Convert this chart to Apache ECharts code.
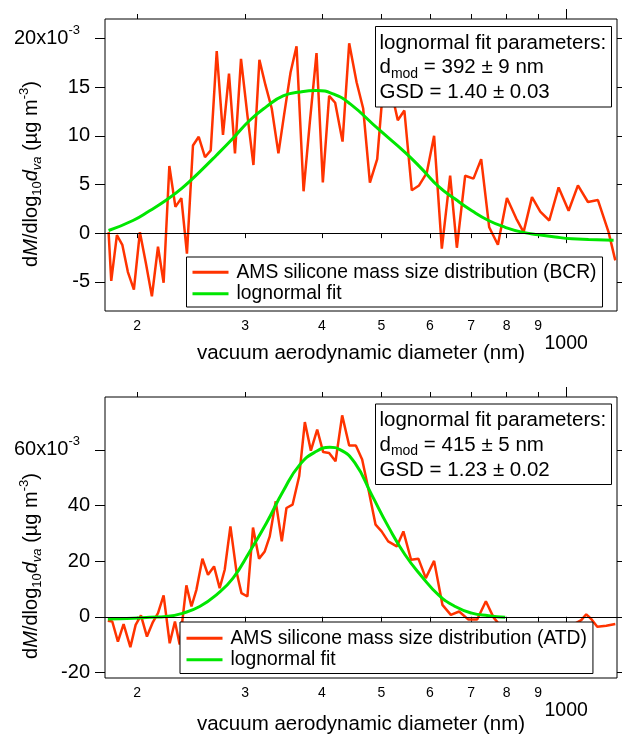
<!DOCTYPE html>
<html>
<head>
<meta charset="utf-8">
<script src="https://cdn.jsdelivr.net/npm/echarts@6/dist/echarts.min.js"></script>
<style>
  html, body { margin: 0; padding: 0; background: #fff; }
  #chart { width: 622px; height: 736px; }
</style>
</head>
<body>
<div id="chart"></div>
<script>
// Silicone mass size distributions (units of 1e-3 ug m^-3) vs vacuum aerodynamic diameter (nm)

// BCR sample: measured distribution
const bcrDiameter = [179.7, 181.5, 185.4, 189.2, 193.2, 197.6, 202.1, 206.7, 211.4, 216.3, 220.9, 225.7,
  230.9, 236.1, 241.1, 246.6, 252.0, 258.0, 263.6, 269.6, 276.0, 282.3, 288.7, 295.3, 302.5, 309.4,
  316.4, 323.7, 331.4, 339.8, 347.0, 355.6, 363.7, 373.4, 382.3, 392.0, 401.4, 411.0, 420.4, 432.2,
  443.1, 455.6, 467.0, 478.9, 492.2, 506.6, 519.0, 531.7, 545.0, 560.4, 575.9, 592.8, 609.3, 627.2,
  647.1, 663.6, 684.6, 706.3, 727.0, 749.2, 774.1, 800.7, 829.2, 852.3, 879.6, 907.4, 938.6, 972.0,
  1009.2, 1045.1, 1085.0, 1126.5, 1172.4, 1202.3];
const bcrMass = [0.1, -4.9, -0.2, -1.2, -4.0, -5.8, 0.1, -3.1, -6.5, -1.4, -5.1, 6.9,
  2.7, 3.6, -2.1, 9.0, 9.9, 7.8, 8.5, 18.7, 10.1, 16.4, 8.2, 17.9, 12.1, 7.0,
  17.8, 15.2, 12.8, 8.2, 12.1, 16.5, 19.2, 4.3, 11.4, 18.5, 5.2, 14.1, 13.4, 9.4,
  19.5, 15.5, 12.8, 5.2, 7.6, 17.2, 14.6, 11.6, 12.6, 4.4, 4.9, 6.2, 10.0, -1.6,
  5.9, -1.5, 5.9, 5.6, 7.6, 0.6, -1.2, 3.6, 1.5, 0.1, 3.7, 2.2, 1.3, 4.7,
  2.3, 4.9, 3.2, 3.4, 0.1, -2.8];

// BCR sample: lognormal fit curve
const bcrFitDiameter = [179.7, 196.9, 209.6, 223.2, 237.5, 252.9, 269.3, 286.6, 305.2, 324.9, 345.8,
  368.2, 392.0, 417.3, 444.3, 494.1, 546.4, 581.8, 619.3, 659.4, 702.1, 747.3, 795.6, 847.2, 901.6,
  960.0, 1022.2, 1087.5, 1194.6];
const bcrFit = [0.27, 1.3, 2.3, 3.4, 4.7, 6.3, 8.0, 9.75, 11.6, 13.0, 14.1,
  14.5, 14.65, 14.3, 13.3, 10.7, 8.3, 6.6, 4.8, 3.5, 2.3, 1.3, 0.6, 0.1, -0.17,
  -0.4, -0.58, -0.65, -0.72];

// ATD sample: measured distribution
const atdDiameter = [179.2, 182.2, 186.1, 190.1, 195.0, 198.9, 202.9, 207.5, 212.2, 216.3, 220.9, 226.0,
  230.5, 234.6, 240.6, 245.2, 249.8, 255.5, 260.9, 266.9, 272.6, 277.8, 283.8, 290.3, 295.8, 302.5,
  308.9, 316.0, 322.8, 328.9, 336.4, 344.1, 350.2, 358.3, 367.3, 375.2, 383.8, 393.0, 401.9, 411.0,
  421.0, 431.6, 443.1, 454.3, 465.2, 475.8, 489.2, 500.4, 512.9, 529.7, 543.0, 558.9, 574.4, 590.6,
  609.3, 628.6, 648.8, 669.3, 693.1, 716.1, 739.9, 761.4, 786.5, 816.8, 848.0, 880.6, 914.3, 949.3,
  985.5, 1023.4, 1058.1, 1078.1, 1098.6, 1123.6, 1162.3, 1202.3];
const atdMass = [-1.4, -1.7, -8.9, -2.6, -10.9, -2.9, 0.5, -7.1, -1.9, 1.3, 7.7, -9.5,
  -1.7, -10.0, 11.3, 3.7, 9.7, 20.9, 15.1, 18.1, 10.3, 16.9, 32.5, 16.3, 8.5, 7.3,
  32.1, 20.9, 23.5, 28.9, 41.5, 27.1, 39.1, 40.3, 50.5, 70.0, 59.7, 67.3, 59.2, 58.9,
  55.9, 72.4, 61.6, 61.6, 56.5, 46.3, 33.1, 30.7, 27.1, 25.3, 30.7, 20.5, 20.9, 13.9,
  20.1, 4.3, 0.7, 1.9, -1.0, -1.0, 5.6, -0.2, -4.0, -5.0, -3.0, -6.0, -4.0, -3.0,
  -5.0, -3.0, -1.2, 0.9, -0.8, -3.6, -3.2, -2.6];

// ATD sample: lognormal fit curve
const atdFitDiameter = [179.2, 196.9, 209.6, 223.2, 237.5, 252.9, 269.3, 286.6, 305.2, 324.9, 345.8,
  368.2, 392.0, 412.1, 427.9, 452.7, 482.0, 512.9, 546.4, 581.8, 619.3, 659.4, 702.1, 747.3, 795.6];
const atdFit = [-0.8, -0.5, -0.2, 0.1, 1.3, 3.7, 7.9, 13.9, 23.5, 33.7, 45.1,
  54.7, 59.5, 60.9, 60.1, 55.3, 43.9, 32.5, 22.3, 14.5, 7.9, 3.7, 1.3, 0.4, -0.2];

// Axis ticks
const xMinorTicks = [200, 300, 400, 500, 600, 700, 800, 900];
const xMajorTicks = [1000];
const bcrYTicks = [-5, 0, 5, 10, 15, 20];
const atdYTicks = [-20, 0, 20, 40, 60];

const legendBcr = ['AMS silicone mass size distribution (BCR)', 'lognormal fit'];
const legendAtd = ['AMS silicone mass size distribution (ATD)', 'lognormal fit'];

const RED = '#ff3300';
const GREEN = '#00e600';
const FONT = '"Liberation Sans", Arial, Helvetica, sans-serif';
const X_MIN = 177.3, X_MAX = 1210;

const zip = (xs, ys) => xs.map((x, i) => [x, ys[i]]);

function xAxes(gridIndex, nameGap) {
  const base = {
    type: 'log', gridIndex, min: X_MIN, max: X_MAX,
    axisLine: { show: false }, splitLine: { show: false }, minorTick: { show: false }
  };
  const tickStyle = { color: '#000', width: 1 };
  return [
    Object.assign({}, base, {
      position: 'bottom',
      axisTick: { show: true, customValues: xMinorTicks, length: 5, lineStyle: tickStyle },
      axisLabel: {
        show: true, customValues: xMinorTicks, margin: 8, fontSize: 14, color: '#000', fontFamily: FONT,
        formatter: v => String(Math.round(v / 100))
      },
      name: 'vacuum aerodynamic diameter (nm)', nameLocation: 'middle', nameGap,
      nameTextStyle: { fontSize: 20.5, color: '#000', fontFamily: FONT }
    }),
    Object.assign({}, base, {
      position: 'bottom',
      axisTick: { show: true, customValues: xMajorTicks, length: 10, lineStyle: tickStyle },
      axisLabel: {
        show: true, customValues: xMajorTicks, margin: 23, fontSize: 19.5, color: '#000', fontFamily: FONT,
        formatter: v => String(Math.round(v))
      }
    }),
    Object.assign({}, base, {
      position: 'top',
      axisTick: { show: true, customValues: xMinorTicks, length: 5, lineStyle: tickStyle },
      axisLabel: { show: false }
    }),
    Object.assign({}, base, {
      position: 'top',
      axisTick: { show: true, customValues: xMajorTicks, length: 10, lineStyle: tickStyle },
      axisLabel: { show: false }
    })
  ];
}

function yAxes(gridIndex, min, max, ticks) {
  const top = ticks[ticks.length - 1];
  const tickStyle = { color: '#000', width: 1 };
  return [
    {
      type: 'value', gridIndex, position: 'left', min, max,
      axisLine: { show: false }, splitLine: { show: false },
      axisTick: { show: true, customValues: ticks, length: 10, lineStyle: tickStyle },
      axisLabel: {
        show: true, customValues: ticks, margin: 15, color: '#000', fontFamily: FONT, fontSize: 20,
        formatter: v => (v === top ? '{m|' + v + 'x10}{sup|-3}{pad|}' : '{m|' + v + '}'),
        rich: {
          m: { fontSize: 20, fontFamily: FONT, color: '#000', lineHeight: 30 },
          sup: { fontSize: 13, fontFamily: FONT, color: '#000', lineHeight: 13, verticalAlign: 'top' },
          pad: { width: 10 }
        }
      }
    },
    {
      type: 'value', gridIndex, position: 'right', min, max,
      axisLine: { show: false }, splitLine: { show: false },
      axisTick: { show: true, customValues: ticks, length: 5, lineStyle: tickStyle },
      axisLabel: { show: false }
    }
  ];
}

const zeroLine = {
  silent: true, symbol: 'none', animation: false,
  label: { show: false },
  lineStyle: { color: '#000', width: 1, type: 'solid' },
  data: [{ yAxis: 0 }]
};

function legendFor(names, left, top, padding) {
  return {
    show: true, orient: 'vertical', left, top, data: names,
    icon: 'rect', itemWidth: 36, itemHeight: 3, itemGap: 0,
    padding, borderColor: '#000', borderWidth: 1, backgroundColor: '#fff',
    selectedMode: false,
    textStyle: { fontSize: 19.3, lineHeight: 21.5, color: '#000', fontFamily: FONT, padding: [0, 0, 0, 3] }
  };
}

const titleRich = {
  n: { fontSize: 20, fontFamily: FONT, fill: '#000', lineHeight: 26 },
  i: { fontSize: 20, fontFamily: FONT, fontStyle: 'italic', fill: '#000', lineHeight: 26 },
  sub: { fontSize: 13, fontFamily: FONT, fill: '#000', lineHeight: 16, verticalAlign: 'bottom' },
  isub: { fontSize: 13, fontFamily: FONT, fontStyle: 'italic', fill: '#000', lineHeight: 16, verticalAlign: 'bottom' },
  sup: { fontSize: 13, fontFamily: FONT, fill: '#000', lineHeight: 12, verticalAlign: 'top' }
};
const yTitle = '{n|d}{i|M}{n|/dlog}{sub|10}{i|d}{isub|va}{n| (\u00b5g m}{sup|-3}{n|)}';

const boxRich = {
  t: { fontSize: 20.5, fontFamily: FONT, fill: '#000', lineHeight: 26 },
  s: { fontSize: 14, fontFamily: FONT, fill: '#000', lineHeight: 16, verticalAlign: 'bottom' }
};

function paramBox(top, lines) {
  const els = [{
    type: 'rect', z: 100,
    shape: { x: 375.5, y: top, width: 236, height: 80.5 },
    style: { fill: '#fff', stroke: '#000', lineWidth: 1 }
  }];
  lines.forEach((txt, k) => {
    els.push({
      type: 'text', z: 101, x: 379.5, y: top + 16.5 + k * 24.7,
      style: { text: txt, rich: boxRich, align: 'left', verticalAlign: 'middle', fontSize: 20.5, fontFamily: FONT, fill: '#000' }
    });
  });
  return els;
}

const chart = echarts.init(document.getElementById('chart'), null, { renderer: 'canvas' });

chart.setOption({
  animation: false,
  backgroundColor: '#fff',
  grid: [
    { left: 105, right: 5, top: 19, height: 292, show: true, borderColor: '#000', borderWidth: 1, backgroundColor: 'transparent' },
    { left: 105, right: 5, top: 397, height: 282, show: true, borderColor: '#000', borderWidth: 1, backgroundColor: 'transparent' }
  ],
  xAxis: xAxes(0, 32).concat(xAxes(1, 36)),
  yAxis: yAxes(0, -8, 22, bcrYTicks).concat(yAxes(1, -22, 79, atdYTicks)),
  legend: [
    legendFor(legendBcr, 186.5, 257, [4.5, 6, 2.5, 6]),
    legendFor(legendAtd, 180, 622, [5.5, 6, 3, 6.5])
  ],
  series: [
    {
      type: 'line', name: legendBcr[0], xAxisIndex: 0, yAxisIndex: 0,
      data: zip(bcrDiameter, bcrMass), symbol: 'none', z: 3,
      lineStyle: { color: RED, width: 2.5 }, itemStyle: { color: RED },
      markLine: zeroLine
    },
    {
      type: 'line', name: legendBcr[1], xAxisIndex: 0, yAxisIndex: 0,
      data: zip(bcrFitDiameter, bcrFit), symbol: 'none', smooth: true, z: 4,
      lineStyle: { color: GREEN, width: 3 }, itemStyle: { color: GREEN }
    },
    {
      type: 'line', name: legendAtd[0], xAxisIndex: 4, yAxisIndex: 2,
      data: zip(atdDiameter, atdMass), symbol: 'none', z: 3,
      lineStyle: { color: RED, width: 2.5 }, itemStyle: { color: RED },
      markLine: zeroLine
    },
    {
      type: 'line', name: legendAtd[1], xAxisIndex: 4, yAxisIndex: 2,
      data: zip(atdFitDiameter, atdFit), symbol: 'none', smooth: true, z: 4,
      lineStyle: { color: GREEN, width: 3 }, itemStyle: { color: GREEN }
    }
  ],
  graphic: [
    { type: 'text', z: 100, x: 31, y: 174, rotation: Math.PI / 2,
      style: { text: yTitle, rich: titleRich, align: 'center', verticalAlign: 'middle', fontSize: 20, fontFamily: FONT, fill: '#000' } },
    { type: 'text', z: 100, x: 31, y: 566, rotation: Math.PI / 2,
      style: { text: yTitle, rich: titleRich, align: 'center', verticalAlign: 'middle', fontSize: 20, fontFamily: FONT, fill: '#000' } }
  ].concat(
    paramBox(26.5, ['{t|lognormal fit parameters:}', '{t|d}{s|mod}{t| = 392 \u00b1 9 nm}', '{t|GSD = 1.40 \u00b1 0.03}']),
    paramBox(404, ['{t|lognormal fit parameters:}', '{t|d}{s|mod}{t| = 415 \u00b1 5 nm}', '{t|GSD = 1.23 \u00b1 0.02}'])
  )
});
</script>
</body>
</html>
